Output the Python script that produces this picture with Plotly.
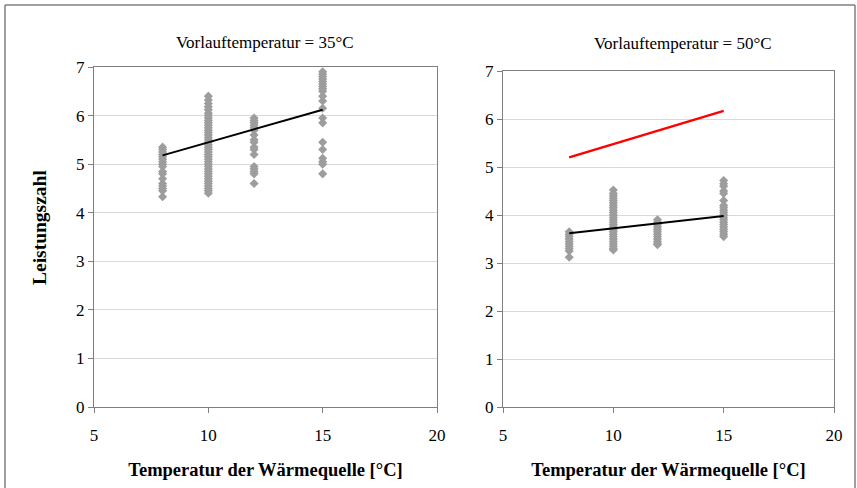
import plotly.graph_objects as go

# ---- data ----
x_cats = [8, 10, 12, 15]

left_8 = [5.35, 5.3, 5.25, 5.2, 5.15, 5.1, 5.05, 5.0, 4.95, 4.85, 4.8, 4.7, 4.6, 4.55, 4.5, 4.45, 4.33]
left_10 = [6.4, 6.32, 6.25, 6.18, 6.12, 6.05, 6.0, 5.95, 5.9, 5.85, 5.8, 5.75, 5.7, 5.65, 5.6, 5.55, 5.5,
           5.45, 5.4, 5.35, 5.3, 5.25, 5.2, 5.15, 5.1, 5.05, 5.0, 4.95, 4.9, 4.85, 4.8, 4.75, 4.7,
           4.65, 4.6, 4.55, 4.5, 4.45, 4.4]
left_12 = [5.95, 5.9, 5.85, 5.8, 5.75, 5.7, 5.6, 5.5, 5.45, 5.35, 5.3, 5.2, 4.95, 4.9, 4.85, 4.8, 4.6]
left_15 = [6.9, 6.85, 6.8, 6.75, 6.7, 6.65, 6.6, 6.55, 6.5, 6.4, 6.3, 6.15, 5.95, 5.85, 5.45, 5.3,
           5.12, 5.05, 5.0, 4.8]

right_8 = [3.65, 3.6, 3.55, 3.5, 3.45, 3.4, 3.35, 3.3, 3.25, 3.12]
right_10 = [4.52, 4.45, 4.4, 4.35, 4.3, 4.25, 4.2, 4.15, 4.1, 4.05, 4.0, 3.95, 3.9, 3.85, 3.8, 3.75,
            3.7, 3.65, 3.6, 3.55, 3.5, 3.45, 3.4, 3.35, 3.3, 3.27]
right_12 = [3.9, 3.85, 3.8, 3.75, 3.7, 3.65, 3.6, 3.55, 3.5, 3.45, 3.4, 3.38]
right_15 = [4.72, 4.65, 4.6, 4.5, 4.45, 4.3, 4.2, 4.15, 4.1, 4.05, 4.0, 3.95, 3.9, 3.85, 3.8, 3.75,
            3.7, 3.65, 3.6, 3.55]

fit_x = [8, 15]
fit_left = [5.18, 6.12]
fit_right = [3.62, 3.98]
fit_ref = [5.2, 6.17]

x_ticks = [5, 10, 15, 20]
y_ticks = [0, 1, 2, 3, 4, 5, 6, 7]

titles = ["Vorlauftemperatur = 35°C", "Vorlauftemperatur = 50°C"]
x_title = "Temperatur der Wärmequelle [°C]"
y_title = "Leistungszahl"

# ---- figure ----
FONT = "Liberation Serif, Times New Roman, serif"
fig = go.Figure()

def scatter(xv, ys, xa, ya):
    xs, yy = [], []
    for xi, col in zip(xv, ys):
        xs += [xi] * len(col)
        yy += col
    fig.add_trace(go.Scatter(x=xs, y=yy, mode="markers", xaxis=xa, yaxis=ya,
                             marker=dict(symbol="diamond", size=7, color="#9d9d9d"),
                             showlegend=False, hoverinfo="skip"))

scatter(x_cats, [left_8, left_10, left_12, left_15], "x", "y")
scatter(x_cats, [right_8, right_10, right_12, right_15], "x2", "y2")

fig.add_trace(go.Scatter(x=fit_x, y=fit_left, mode="lines", xaxis="x", yaxis="y",
                         line=dict(color="black", width=2), showlegend=False))
fig.add_trace(go.Scatter(x=fit_x, y=fit_right, mode="lines", xaxis="x2", yaxis="y2",
                         line=dict(color="black", width=2), showlegend=False))
fig.add_trace(go.Scatter(x=fit_x, y=fit_ref, mode="lines", xaxis="x2", yaxis="y2",
                         line=dict(color="#ff0000", width=2.5), showlegend=False))

xax = dict(range=[5, 20], tickvals=x_ticks, showgrid=False, zeroline=False, automargin=False,
           showline=True, linecolor="#7f7f7f", linewidth=1, mirror=True,
           ticks="outside", ticklen=5, tickcolor="#7f7f7f", ticklabelstandoff=8,
           tickfont=dict(family=FONT, size=17, color="black"),
           title=dict(text="<b>" + x_title + "</b>", font=dict(family=FONT, size=18.5, color="black"), standoff=18))
yax = dict(range=[0, 7], tickvals=y_ticks, showgrid=True, gridcolor="#d9d9d9", gridwidth=1, automargin=False,
           zeroline=False, showline=True, linecolor="#7f7f7f", linewidth=1, mirror=True,
           ticks="outside", ticklen=5, tickcolor="#7f7f7f",
           tickfont=dict(family=FONT, size=17, color="black"))

fig.update_layout(
    width=857, height=488,
    margin=dict(l=0, r=0, t=0, b=0),
    paper_bgcolor="white", plot_bgcolor="white",
    xaxis=dict(xax, domain=[94 / 857, 437 / 857], anchor="y"),
    yaxis=dict(yax, domain=[(488 - 407) / 488, (488 - 67) / 488], anchor="x"),
    xaxis2=dict(xax, domain=[503 / 857, 834 / 857], anchor="y2"),
    yaxis2=dict(yax, domain=[(488 - 407) / 488, (488 - 71) / 488], anchor="x2"),
    annotations=[
        dict(text=titles[0], x=265 / 857, y=1 - 42 / 488, xref="paper", yref="paper",
             xanchor="center", yanchor="middle",
             showarrow=False, font=dict(family=FONT, size=17, color="black")),
        dict(text=titles[1], x=683 / 857, y=1 - 44 / 488, xref="paper", yref="paper",
             xanchor="center", yanchor="middle",
             showarrow=False, font=dict(family=FONT, size=17, color="black")),
        dict(text="<b>" + y_title + "</b>", x=40 / 857, y=1 - 228 / 488, xref="paper", yref="paper",
             xanchor="center", yanchor="middle", textangle=-90,
             showarrow=False, font=dict(family=FONT, size=19.5, color="black")),
    ],
    shapes=[
        dict(type="line", xref="paper", yref="paper", x0=5 / 857, x1=855 / 857, y0=1 - 5 / 488, y1=1 - 5 / 488,
             line=dict(color="#808080", width=1.5)),
        dict(type="line", xref="paper", yref="paper", x0=5 / 857, x1=5 / 857, y0=0, y1=1 - 5 / 488,
             line=dict(color="#808080", width=1.5)),
        dict(type="line", xref="paper", yref="paper", x0=855 / 857, x1=855 / 857, y0=0, y1=1 - 5 / 488,
             line=dict(color="#808080", width=1.5)),
    ],
)

fig.write_html("out.html", config={"displayModeBar": False},
               post_script="document.body.style.margin='0';document.body.style.overflow='hidden';")
